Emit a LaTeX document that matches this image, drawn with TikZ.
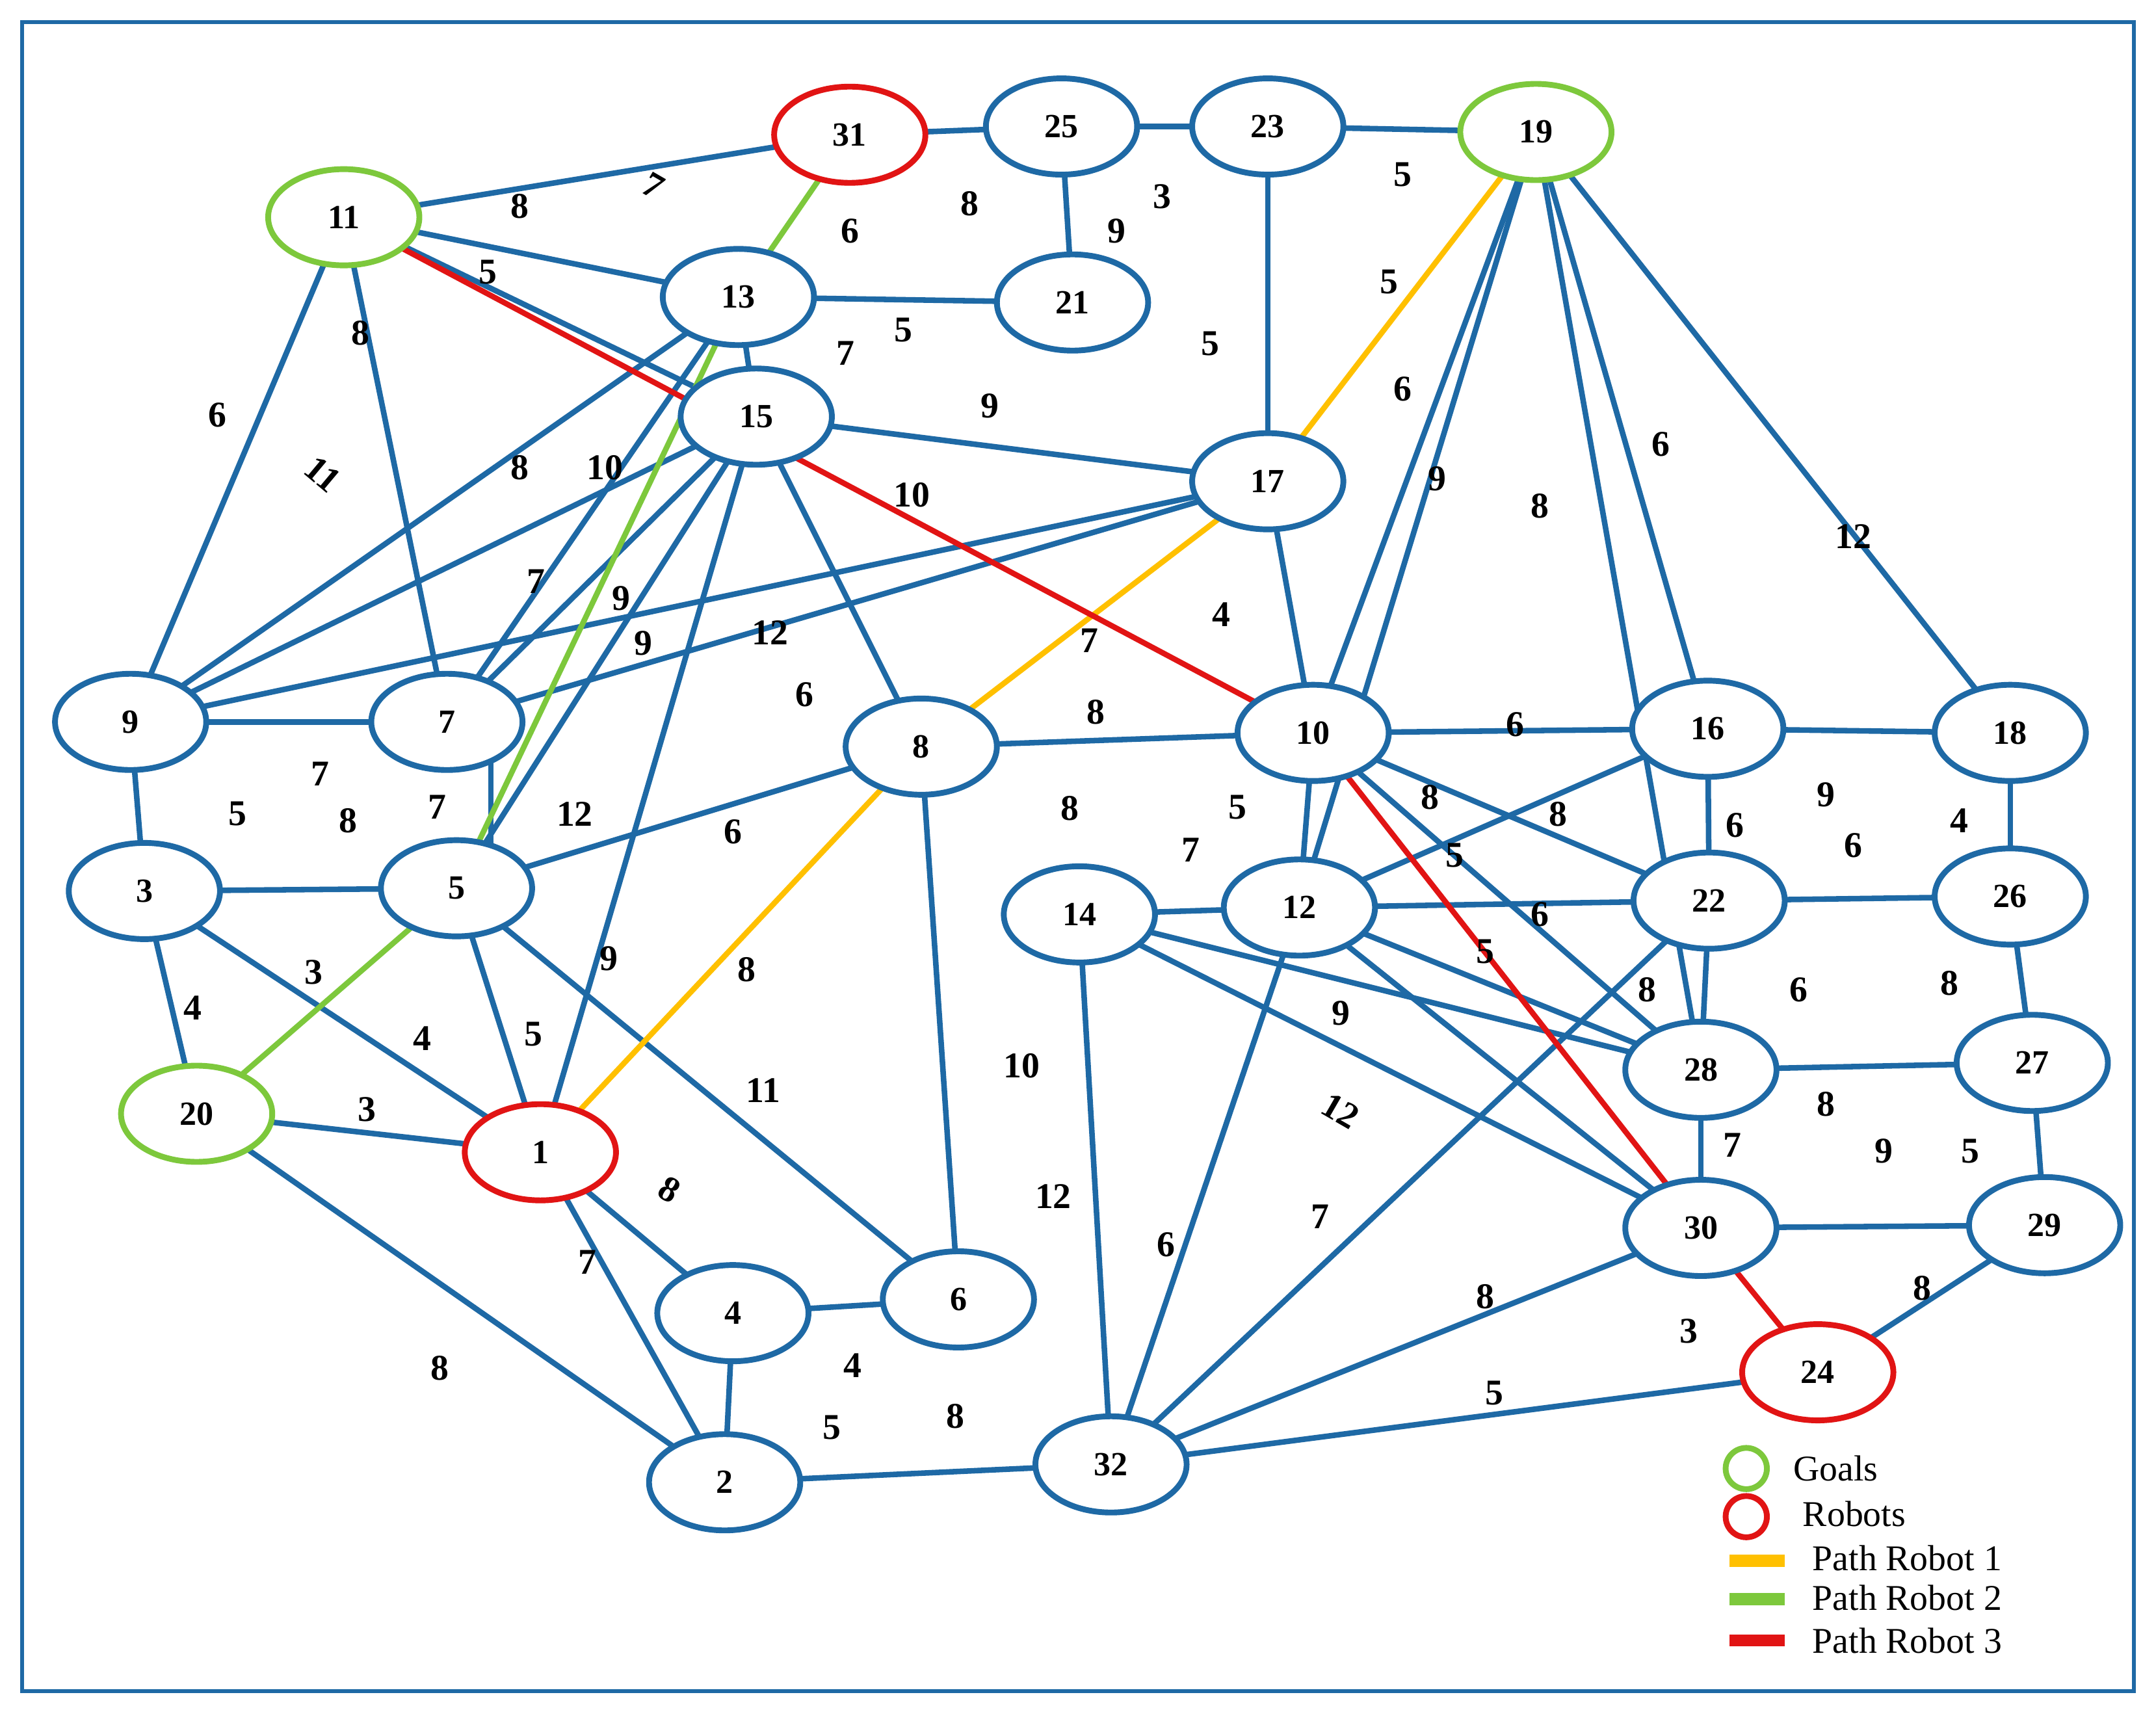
\documentclass[tikz,border=0pt]{standalone}
\usepackage{fontspec}
\setmainfont{Liberation Serif}
\begin{document}
\begin{tikzpicture}[x=0.02cm,y=-0.02cm,
 nd/.style={ellipse,draw=eb,line width=2.4pt,fill=white,minimum width=2.2cm,minimum height=1.4cm,inner sep=0pt,font=\fontsize{14}{16}\selectfont\bfseries},
 e/.style={draw=eb,line width=2.3pt},
 ye/.style={draw=ey,line width=2.3pt},
 ge/.style={draw=eg,line width=2.3pt},
 re/.style={draw=er,line width=2.3pt},
 lb/.style={font=\fontsize{15}{17}\selectfont\bfseries,inner sep=0pt}]
\definecolor{eb}{RGB}{30,105,165}
\definecolor{ey}{RGB}{255,192,0}
\definecolor{eg}{RGB}{125,200,60}
\definecolor{er}{RGB}{225,20,20}
\useasboundingbox (0,0) rectangle (1568,1253);
\draw[draw=eb,line width=1.5pt] (16,16) rectangle (1552,1230);
\usetikzlibrary{shapes.geometric}
\foreach \n/\x/\y in {31/618/98,25/772/92,23/922/92,19/1117/96,11/250/158,13/537/216,21/780/220,15/550/303,17/922/350,9/95/525,7/325/525,8/670/543,10/955/533,16/1242/530,18/1462/533,3/105/648,5/332/646,14/785/665,12/945/660,22/1243/655,26/1462/652,20/143/810,1/393/838,28/1237/778,27/1478/773,30/1237/893,29/1487/891,4/533/955,6/697/945,24/1322/998,2/527/1078,32/808/1065}
 \coordinate (c\n) at (\x,\y);
% blue edges
\foreach \a/\b in {11/31,31/25,25/23,23/19,25/21,13/21,23/17,11/13,11/15,11/9,11/7,13/15,13/9,13/7,15/17,15/9,15/7,15/5,15/1,15/8,17/9,17/7,17/10,19/10,19/12,19/28,19/16,19/18,9/7,9/3,3/5,3/20,3/1,5/1,5/6,5/8,8/10,8/6,10/16,10/12,10/22,10/28,16/12,16/18,16/22,18/26,22/26,22/12,22/28,22/32,12/14,12/28,12/30,12/32,14/28,14/30,14/32,28/27,28/30,27/26,27/29,30/29,30/32,24/29,24/32,20/1,20/2,1/4,1/2,4/6,4/2,2/32}
 \draw[e] (c\a)--(c\b);
\draw[e] (357,545)--(357,615);
\foreach \a/\b in {17/8,19/17,8/1} \draw[ye] (c\a)--(c\b);
\foreach \a/\b in {31/13,13/5,5/20} \draw[ge] (c\a)--(c\b);
\foreach \a/\b in {11/10,10/30,30/24} \draw[re] (c\a)--(c\b);
% nodes
\foreach \n/\x/\y in {25/772/92,23/922/92,13/537/216,21/780/220,15/550/303,17/922/350,9/95/525,7/325/525,8/670/543,10/955/533,16/1242/530,18/1462/533,3/105/648,5/332/646,14/785/665,12/945/660,22/1243/655,26/1462/652,28/1237/778,27/1478/773,30/1237/893,29/1487/891,4/533/955,6/697/945,2/527/1078,32/808/1065}
 \node[nd] (n\n) at (\x,\y) {\n};
\foreach \n/\x/\y in {19/1117/96,11/250/158,20/143/810} \node[nd,draw=eg] (n\n) at (\x,\y) {\n};
\foreach \n/\x/\y in {31/618/98,1/393/838,24/1322/998} \node[nd,draw=er] (n\n) at (\x,\y) {\n};
% labels
\foreach \x/\y/\t in {378/150/8,355/198/5,262/242/8,158/302/6,378/340/8,440/340/10,618/168/6,705/148/8,812/168/9,845/143/3,1020/127/5,1010/205/5,880/250/5,657/240/5,615/257/7,720/295/9,663/360/10,1020/283/6,1045/348/9,1120/368/8,1208/323/6,1348/390/12,888/447/4,792/466/7,390/423/7,452/435/9,468/468/9,560/460/12,585/505/6,797/518/8,1102/527/6,233/563/7,173/592/5,253/597/8,318/587/7,418/592/12,533/605/6,778/588/8,900/587/5,866/618/7,1040/580/8,1133/592/8,1058/622/5,1120/665/6,1080/692/5,1262/600/6,1328/578/9,1348/615/6,1425/597/4,1198/720/8,1308/720/6,1418/715/8,975/737/9,1260/833/7,1328/803/8,1370/837/9,1433/837/5,140/733/4,228/707/3,307/755/4,388/752/5,443/697/9,543/705/8,555/793/11,743/775/10,766/870/12,267/807/3,427/918/7,848/905/6,960/885/7,1080/943/8,1228/968/3,1398/937/8,320/995/8,620/993/4,605/1038/5,695/1030/8,1087/1013/5}
 \node[lb] at (\x,\y) {\t};
\node[lb,rotate=-30] at (475,135) {7};
\node[lb,rotate=-40] at (235,345) {11};
\node[lb,rotate=-30] at (975,808) {12};
\node[lb,rotate=-30] at (487,865) {8};
% legend
\node[circle,draw=eg,line width=2.4pt,minimum size=0.6cm,inner sep=0pt] (lg) at (1270,1068) {};
\node[circle,draw=er,line width=2.4pt,minimum size=0.6cm,inner sep=0pt] (lr) at (1270,1103) {};
\node[anchor=west,font=\fontsize{15}{17}\selectfont] at (1298,1068) {Goals};
\node[anchor=west,font=\fontsize{15}{17}\selectfont] at (1305,1101) {Robots};
\draw[ey,line width=5pt] (1258,1135)--(1298,1135);
\draw[eg,line width=5pt] (1258,1163)--(1298,1163);
\draw[er,line width=5pt] (1258,1193)--(1298,1193);
\node[anchor=west,font=\fontsize{15}{17}\selectfont] at (1312,1133) {Path Robot 1};
\node[anchor=west,font=\fontsize{15}{17}\selectfont] at (1312,1162) {Path Robot 2};
\node[anchor=west,font=\fontsize{15}{17}\selectfont] at (1312,1193) {Path Robot 3};
\end{tikzpicture}
\end{document}
